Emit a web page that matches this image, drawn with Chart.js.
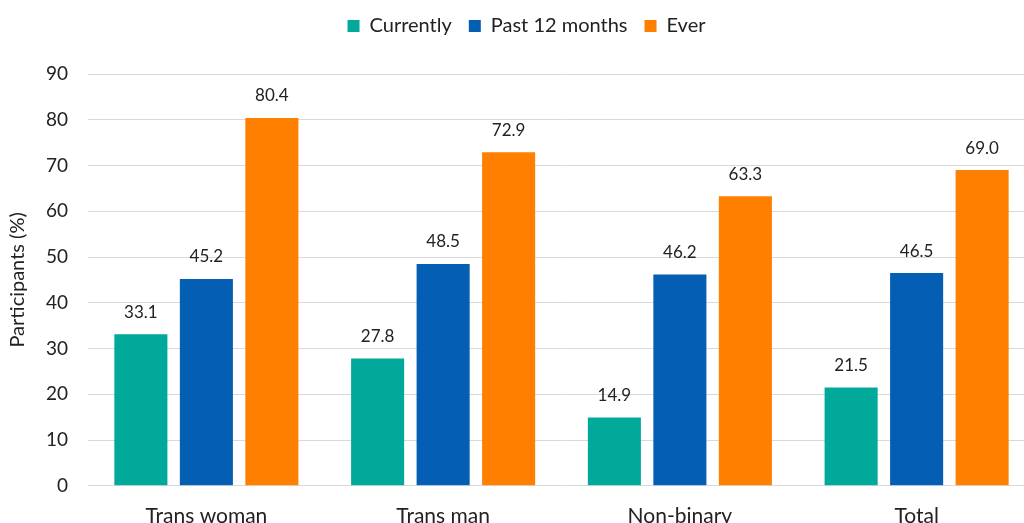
<!DOCTYPE html>
<html>
<head>
<meta charset="utf-8">
<script src="https://cdn.jsdelivr.net/npm/chart.js@4.4.0/dist/chart.umd.min.js"></script>
<style>
  html, body { margin: 0; padding: 0; overflow: hidden; background: #fff; }
  #wrap { width: 1036px; height: 539px; position: relative; }
</style>
</head>
<body>
<div id="wrap"><canvas id="myChart"></canvas></div>
<script>
// categorie e serie
const categories = ['Trans woman', 'Trans man', 'Non-binary', 'Total'];
const currently = [33.1, 27.8, 14.9, 21.5];
const past12 = [45.2, 48.5, 46.2, 46.5];
const ever = [80.4, 72.9, 63.3, 69.0];
const yTicks = [0, 10, 20, 30, 40, 50, 60, 70, 80, 90];

const FONT = 'Lato, "Open Sans", sans-serif';

// etichette sopra le barre
const valueLabels = {
    id: 'valueLabels',
    afterDatasetsDraw(chart) {
        const ctx = chart.ctx;
        ctx.save();
        ctx.font = '17px ' + FONT;
        ctx.fillStyle = '#222';
        ctx.textAlign = 'center';
        ctx.textBaseline = 'middle';
        chart.data.datasets.forEach((ds, i) => {
            chart.getDatasetMeta(i).data.forEach((bar, j) => {
                ctx.fillText(ds.data[j].toFixed(1), bar.x, bar.y - 22);
            });
        });
        ctx.restore();
    }
};

// spazio extra sotto la legenda
const legendGap = {
    id: 'legendGap',
    beforeInit(chart) {
        const fit = chart.legend.fit;
        chart.legend.fit = function () {
            fit.call(this);
            this.height += 28;
        };
    }
};

const ctx = document.getElementById('myChart').getContext('2d');
const myChart = new Chart(ctx, {
    type: 'bar',
    data: {
        labels: categories,
        datasets: [
            { label: 'Currently', data: currently, backgroundColor: '#00A99A' },
            { label: 'Past 12 months', data: past12, backgroundColor: '#035EB4' },
            { label: 'Ever', data: ever, backgroundColor: '#FF7F00' }
        ]
    },
    options: {
        responsive: true,
        maintainAspectRatio: false,
        animation: false,
        datasets: { bar: { categoryPercentage: 0.83, barPercentage: 0.81 } },
        layout: { padding: { top: -1, right: 1, left: 18, bottom: 0 } },
        plugins: {
            legend: {
                position: 'top',
                labels: {
                    font: { family: FONT, size: 20 },
                    color: '#222',
                    boxWidth: 12,
                    boxHeight: 12,
                    padding: 17
                }
            },
            tooltip: { enabled: false }
        },
        scales: {
            x: {
                grid: { display: false },
                border: { display: false },
                ticks: { font: { family: FONT, size: 21 }, color: '#222', padding: 10 }
            },
            y: {
                min: 0,
                max: 90,
                afterBuildTicks: (scale) => { scale.ticks = yTicks.map(v => ({ value: v })); },
                afterFit: (scale) => { scale.width = 70; },
                grid: { color: '#D9D9D9', lineWidth: 1, drawTicks: false },
                border: { display: false },
                ticks: { font: { family: FONT, size: 19 }, color: '#222', padding: 20 },
                title: {
                    display: true,
                    text: 'Participants (%)',
                    font: { family: FONT, size: 20 },
                    color: '#222',
                    padding: { top: -12, bottom: 0 }
                }
            }
        }
    },
    plugins: [valueLabels, legendGap]
});
</script>
</body>
</html>
